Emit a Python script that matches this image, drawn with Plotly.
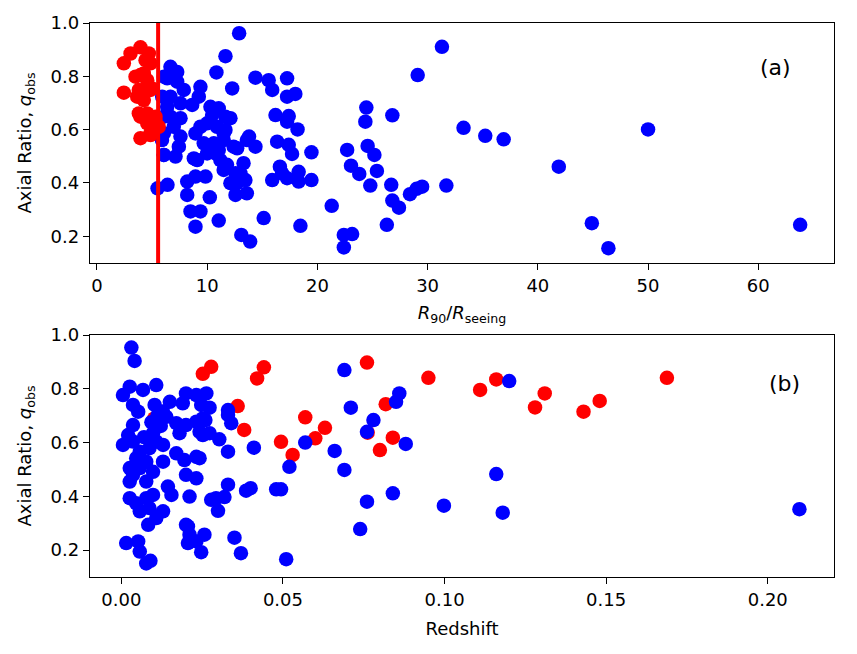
import plotly.graph_objects as go

# ---------------- Panel (a): axial ratio vs R90/Rseeing ----------------
a_blue_x = [12.9, 11.66, 10.84, 12.27, 6.67, 7.28, 6.37, 7.28, 7.88, 6.67, 6.37, 7.58, 9.39, 9.24, 8.64,
            10.3, 11.05, 10.45, 12.11, 7.58, 6.67, 6.97, 6.07, 8.94, 9.39, 10.0, 10.9, 11.66, 11.5, 10.6,
            7.58, 7.43, 7.13, 6.07, 9.69, 10.0, 9.09, 8.79, 11.2, 10.75, 11.8, 11.5, 12.72, 13.6, 13.3,
            13.02, 12.72, 13.6, 12.11, 8.94, 9.85, 8.19, 5.5, 6.4, 8.19, 10.24, 8.49, 9.39, 8.94,
            11.05, 13.1, 13.9, 5.9, 6.07, 6.07, 5.92, 6.07, 14.38, 15.58, 15.9, 17.25, 17.25, 18.0,
            16.2, 17.25, 17.4, 18.2, 16.35, 17.4, 12.4, 13.8, 14.38, 15.9, 16.8, 16.6, 17.25, 18.3, 18.3,
            19.46, 12.57, 13.47, 12.57, 15.13, 11.05, 11.5, 11.66, 31.3, 29.1, 24.44, 24.35, 26.8,
            33.26, 35.23, 36.9, 17.7, 19.46, 22.7, 24.56, 25.17, 23.05, 23.8, 25.4, 24.8, 26.7, 28.4,
            29.0, 29.5, 31.7, 26.8, 27.4, 21.3, 18.46, 26.3, 22.4, 23.15, 22.4, 41.9, 50.0, 44.9, 46.4, 63.8]
a_blue_y = [0.962, 0.876, 0.815, 0.755, 0.836, 0.817, 0.793, 0.780, 0.749, 0.724, 0.686, 0.699, 0.761, 0.724, 0.693,
            0.686, 0.680, 0.655, 0.643, 0.643, 0.649, 0.611, 0.586, 0.586, 0.611, 0.624, 0.611, 0.599, 0.561, 0.549,
            0.574, 0.536, 0.499, 0.505, 0.549, 0.511, 0.486, 0.492, 0.486, 0.511, 0.468, 0.449, 0.530, 0.561, 0.474,
            0.436, 0.399, 0.361, 0.399, 0.424, 0.424, 0.405, 0.380, 0.393, 0.355, 0.346, 0.293, 0.293, 0.236,
            0.259, 0.205, 0.180, 0.561, 0.505, 0.799, 0.724, 0.649, 0.795, 0.786, 0.749, 0.793, 0.724, 0.734,
            0.655, 0.630, 0.651, 0.601, 0.555, 0.543, 0.536, 0.574, 0.536, 0.411, 0.436, 0.461, 0.418, 0.442, 0.405,
            0.411, 0.436, 0.411, 0.355, 0.268, 0.524, 0.586, 0.649, 0.911, 0.805, 0.683, 0.630, 0.654,
            0.607, 0.577, 0.564, 0.509, 0.515, 0.524, 0.539, 0.505, 0.465, 0.434, 0.445, 0.390, 0.393, 0.358,
            0.378, 0.386, 0.390, 0.334, 0.307, 0.314, 0.239, 0.243, 0.205, 0.208, 0.158, 0.461, 0.601, 0.249, 0.155, 0.243]

a_red_x = [2.44, 3.05, 3.95, 4.71, 4.41, 4.86, 3.95, 4.56, 2.44, 3.8, 5.0, 4.25, 3.95, 4.56, 5.31, 4.56,
           5.31, 4.86, 3.95, 3.5, 4.25, 3.65, 4.86, 3.8, 4.4, 5.31, 5.6, 4.86]
a_red_y = [0.849, 0.886, 0.909, 0.886, 0.861, 0.849, 0.805, 0.786, 0.739, 0.749, 0.755, 0.711, 0.649, 0.661,
           0.649, 0.624, 0.611, 0.586, 0.568, 0.799, 0.811, 0.724, 0.749, 0.661, 0.643, 0.636, 0.611, 0.580]

r_threshold = 5.55

# ---------------- Panel (b): axial ratio vs redshift ----------------
b_red_z = [0.0102, 0.0252, 0.0278, 0.0441, 0.042, 0.036, 0.038, 0.0494, 0.053, 0.0569, 0.060, 0.063,
           0.076, 0.0762, 0.080, 0.0818, 0.084, 0.0950, 0.111, 0.116, 0.128, 0.131, 0.143, 0.148, 0.1688]
b_red_q = [0.690, 0.856, 0.882, 0.880, 0.839, 0.736, 0.647, 0.603, 0.554, 0.694, 0.616, 0.655,
           0.898, 0.637, 0.572, 0.743, 0.618, 0.841, 0.796, 0.835, 0.731, 0.783, 0.715, 0.755, 0.841]

b_blue_z = [0.069, 0.071, 0.078, 0.076, 0.085, 0.086, 0.088, 0.0569, 0.052, 0.0494, 0.066, 0.069, 0.076, 0.084,
            0.0739, 0.051, 0.0998, 0.116, 0.118, 0.120, 0.2098,
            0.0263, 0.0247, 0.0273, 0.026, 0.033, 0.033, 0.034, 0.0242, 0.0273, 0.0303, 0.033, 0.041, 0.0242,
            0.0232, 0.033, 0.040, 0.0386, 0.0479, 0.0319, 0.0293, 0.0278, 0.0299, 0.035, 0.037, 0.0257, 0.0247,
            0.0206, 0.0206,
            0.0031, 0.0041, 0.0026, 0.0005, 0.0067, 0.0108, 0.0036, 0.0052, 0.0103, 0.015, 0.019, 0.020, 0.0232,
            0.0139, 0.017, 0.020, 0.0232, 0.0252, 0.018, 0.0252, 0.0036, 0.0021, 0.0005, 0.0036, 0.0098, 0.0108,
            0.0087, 0.0129, 0.0057, 0.0046, 0.0026, 0.0036, 0.0026, 0.0057, 0.0077, 0.0098, 0.0077, 0.0129,
            0.017, 0.0195, 0.0232, 0.020, 0.0144, 0.0155, 0.0211, 0.0026, 0.0046, 0.0077, 0.0098, 0.0087,
            0.0057, 0.0129, 0.0108, 0.0083, 0.020, 0.0211, 0.0232, 0.0015, 0.0052, 0.0057, 0.0077, 0.0090,
            0.0112, 0.0093, 0.0122, 0.0070, 0.0128]
b_blue_q = [0.870, 0.730, 0.684, 0.640, 0.752, 0.783, 0.595, 0.600, 0.510, 0.426, 0.569, 0.498, 0.380, 0.411,
            0.278, 0.166, 0.365, 0.483, 0.339, 0.829, 0.352,
            0.783, 0.740, 0.730, 0.684, 0.721, 0.703, 0.672, 0.640, 0.635, 0.612, 0.566, 0.581, 0.542,
            0.467, 0.443, 0.430, 0.421, 0.426, 0.397, 0.393, 0.387, 0.346, 0.246, 0.188, 0.257, 0.192,
            0.226, 0.288,
            0.954, 0.904, 0.808, 0.777, 0.796, 0.814, 0.740, 0.715, 0.740, 0.752, 0.746, 0.783, 0.777,
            0.696, 0.672, 0.665, 0.678, 0.690, 0.635, 0.628, 0.665, 0.628, 0.591, 0.604, 0.635, 0.604,
            0.579, 0.591, 0.566, 0.542, 0.505, 0.480, 0.455, 0.505, 0.529, 0.491, 0.455, 0.529,
            0.560, 0.535, 0.547, 0.480, 0.436, 0.405, 0.399, 0.393, 0.374, 0.393, 0.405, 0.356,
            0.344, 0.344, 0.319, 0.294, 0.294, 0.257, 0.232, 0.226, 0.232, 0.194, 0.150, 0.160,
            0.700, 0.676, 0.662, 0.620, 0.716]

q_ticks = [0.2, 0.4, 0.6, 0.8, 1.0]
r_ticks = [0, 10, 20, 30, 40, 50, 60]
z_ticks = [0.00, 0.05, 0.10, 0.15, 0.20]

BLUE = "#0000ff"
RED = "#ff0000"
MS = 14.5
FONT = "DejaVu Sans"

fig = go.Figure()
fig.add_trace(go.Scatter(x=a_blue_x, y=a_blue_y, mode="markers", xaxis="x", yaxis="y",
                         marker=dict(color=BLUE, size=MS, line=dict(width=0)), showlegend=False))
fig.add_trace(go.Scatter(x=a_red_x, y=a_red_y, mode="markers", xaxis="x", yaxis="y",
                         marker=dict(color=RED, size=MS, line=dict(width=0)), showlegend=False))
fig.add_trace(go.Scatter(x=b_red_z, y=b_red_q, mode="markers", xaxis="x2", yaxis="y2",
                         marker=dict(color=RED, size=MS, line=dict(width=0)), showlegend=False))
fig.add_trace(go.Scatter(x=b_blue_z, y=b_blue_q, mode="markers", xaxis="x2", yaxis="y2",
                         marker=dict(color=BLUE, size=MS, line=dict(width=0)), showlegend=False))

fig.add_shape(type="line", xref="x", yref="y domain", x0=r_threshold, x1=r_threshold, y0=0, y1=1,
              line=dict(color=RED, width=4))

axis_common = dict(showline=True, linecolor="black", linewidth=1.3, mirror=True,
                   ticks="outside", ticklen=6, tickwidth=1.3, tickcolor="black",
                   showgrid=False, zeroline=False,
                   tickfont=dict(family=FONT, size=18, color="black"))

TITLE_SIZE = 18
fig.update_layout(
    width=857, height=654,
    margin=dict(l=90, r=23, t=23, b=77),
    paper_bgcolor="white", plot_bgcolor="white",
    font=dict(family=FONT, color="black"),
    xaxis=dict(domain=[0, 1], anchor="y", range=[-0.63, 66.87], tickvals=r_ticks,
               title=dict(text="<i>R</i><sub>90</sub>/<i>R</i><sub>seeing</sub>",
                          font=dict(family=FONT, size=TITLE_SIZE), standoff=11),
               **axis_common),
    yaxis=dict(domain=[0.5668, 1], anchor="x", range=[0.0995, 1.0005], tickvals=q_ticks,
               tickformat=".1f",
               title=dict(text="Axial Ratio, <i>q</i><sub>obs</sub>",
                          font=dict(family=FONT, size=TITLE_SIZE), standoff=14),
               **axis_common),
    xaxis2=dict(domain=[0, 1], anchor="y2", range=[-0.0097, 0.2205], tickvals=z_ticks,
                tickformat=".2f",
                title=dict(text="Redshift", font=dict(family=FONT, size=TITLE_SIZE), standoff=13),
                **axis_common),
    yaxis2=dict(domain=[0, 0.4368], anchor="x2", range=[0.0995, 1.0005], tickvals=q_ticks,
                tickformat=".1f",
                title=dict(text="Axial Ratio, <i>q</i><sub>obs</sub>",
                           font=dict(family=FONT, size=TITLE_SIZE), standoff=14),
                **axis_common),
)

fig.add_annotation(text="(a)", xref="x domain", yref="y domain", x=0.921, y=0.8125,
                   showarrow=False, xanchor="center", yanchor="middle",
                   font=dict(family=FONT, size=22, color="black"))
fig.add_annotation(text="(b)", xref="x2 domain", yref="y2 domain", x=0.934, y=0.80,
                   showarrow=False, xanchor="center", yanchor="middle",
                   font=dict(family=FONT, size=22, color="black"))

fig.write_html("out.html")
